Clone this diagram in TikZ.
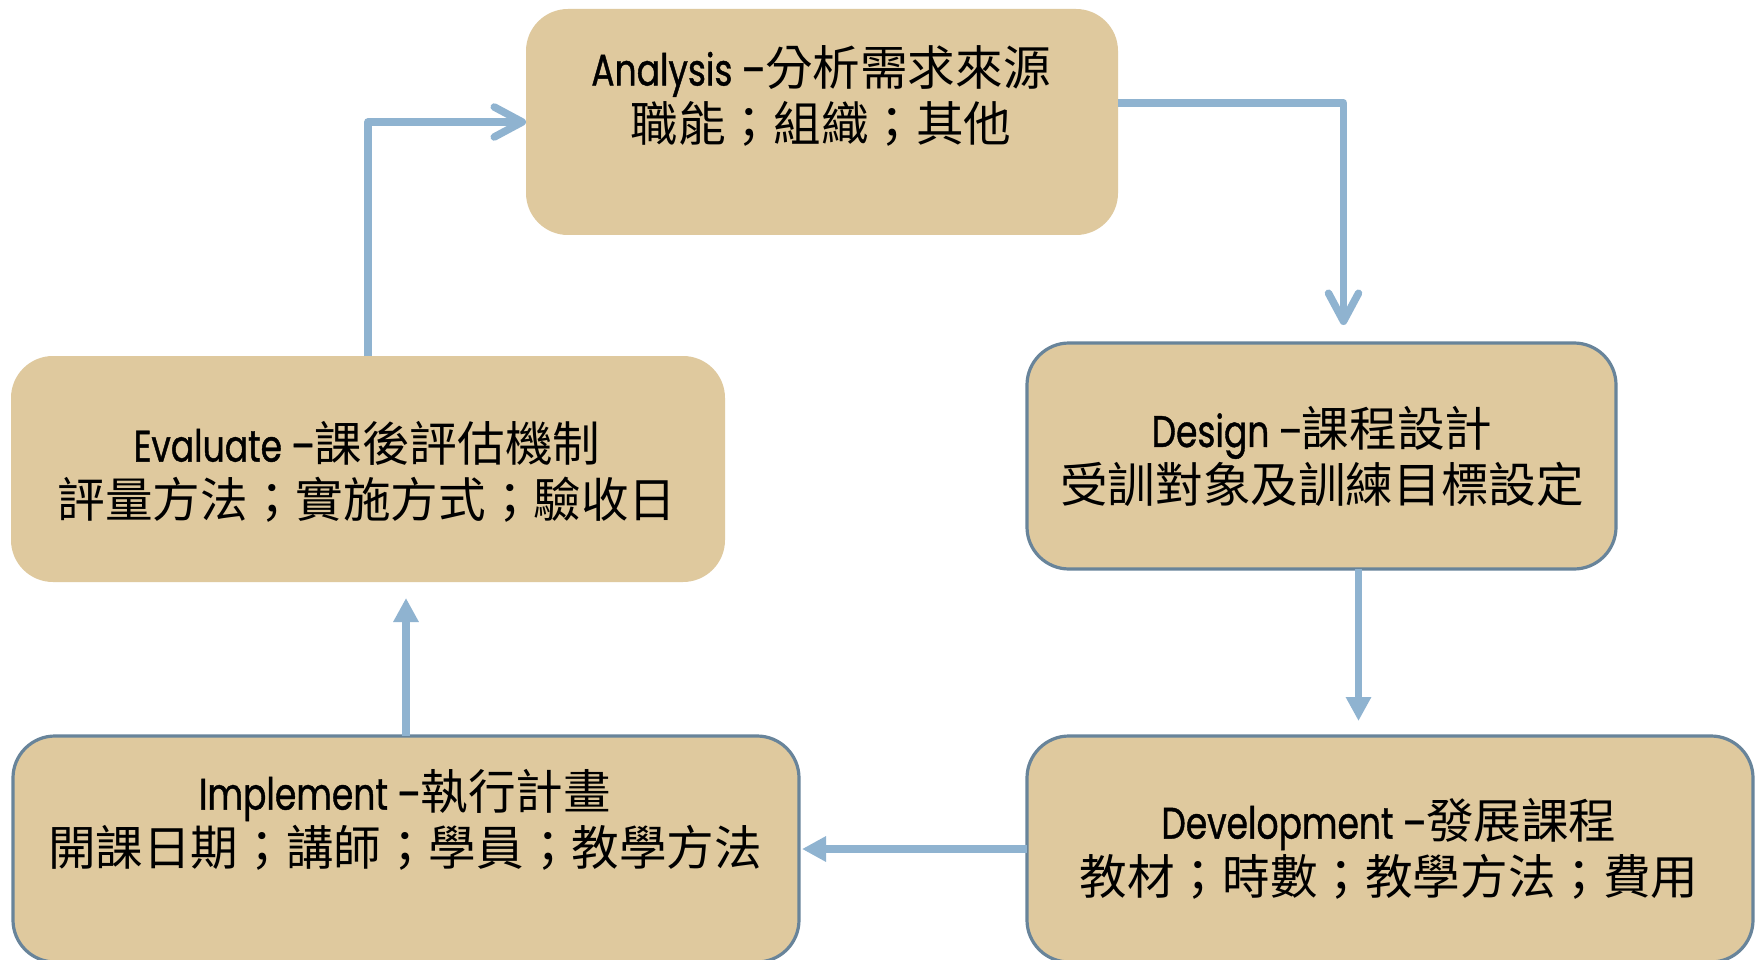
\documentclass[tikz,border=0pt]{standalone}
\usepackage{fontspec}
\setmainfont{Noto Sans CJK TC}
\newfontfamily\latin{Poppins}[FakeStretch=0.78,Scale=0.93,FakeBold=0.9]
\usetikzlibrary{arrows.meta}
\definecolor{boxtan}{RGB}{223,201,158}
\definecolor{boxedge}{RGB}{104,132,154}
\definecolor{flow}{RGB}{143,179,208}
\tikzset{
  stage/.style={rectangle, rounded corners=42pt, fill=boxtan, draw=none,
    minimum height=226pt, anchor=north west, inner sep=0pt, outer sep=0pt},
  framed/.style={draw=boxedge, line width=3.2pt},
  stagetext/.style={align=center, font=\fontsize{47.6}{56}\selectfont, inner sep=0pt},
  flowline/.style={draw=flow, line width=7.5pt},
  barbhead/.style={-{Straight Barb[length=28pt,width=30pt,round]}},
  trihead/.style={-{Triangle[length=24pt,width=24pt]}},
}
\begin{document}
\begin{tikzpicture}[x=1pt,y=-1pt]
\useasboundingbox (0,0) rectangle (1756,960);
\clip (0,0) rectangle (1756,960);
\fill[white] (0,0) rectangle (1756,960);

% stage boxes
\node[stage, minimum width=592pt] (analysis) at (526,9) {};
\node[stage, framed, minimum width=589pt] (design) at (1027,343) {};
\node[stage, minimum width=714pt] (evaluate) at (11,356) {};
\node[stage, framed, minimum width=786pt] (implement) at (13,736) {};
\node[stage, framed, minimum width=726pt] (development) at (1027,736) {};

% stage labels
\node[stagetext] (analysisText) at (821,96) {{\latin Analysis –}分析需求來源\\職能；組織；其他};
\node[stagetext] (designText) at (1322,457) {{\latin Design –}課程設計\\受訓對象及訓練目標設定};
\node[stagetext] (evaluateText) at (367,472) {{\latin Evaluate –}課後評估機制\\評量方法；實施方式；驗收日};
\node[stagetext] (implementText) at (405,820) {{\latin Implement –}執行計畫\\開課日期；講師；學員；教學方法};
\node[stagetext] (developmentText) at (1389,849) {{\latin Development –}發展課程\\教材；時數；教學方法；費用};

% flow between stages
\draw[flowline, barbhead, line join=round] (evaluate.north) |- (analysis.west);
\draw[flowline, barbhead, line join=round] ([yshift=19pt]analysis.east) -| ([xshift=22pt,yshift=18pt]design.north);
\draw[flowline, trihead] ([xshift=37pt]design.south) -- ([xshift=37pt,yshift=15pt]design.south |- development.north);
\draw[flowline, trihead] (development.west) -- ([xshift=3pt]implement.east);
\draw[flowline, trihead] (implement.north) -- ([yshift=-16pt]implement.north |- evaluate.south);
\end{tikzpicture}
\end{document}
